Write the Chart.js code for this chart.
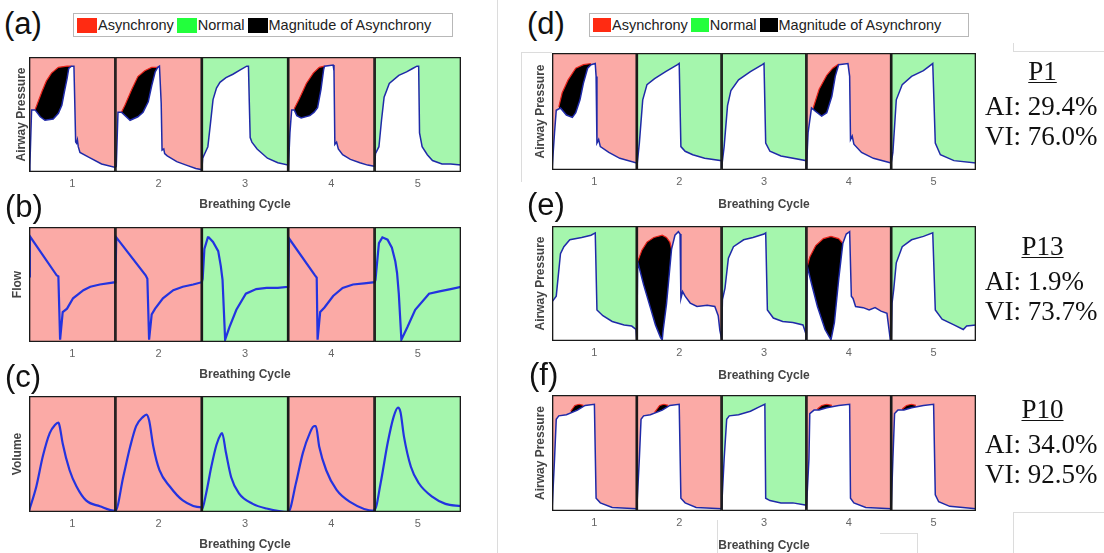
<!DOCTYPE html>
<html>
<head>
<meta charset="utf-8">
<script src="https://cdn.jsdelivr.net/npm/chart.js@4.4.0/dist/chart.umd.min.js"></script>
<style>
body { margin: 0; width: 1104px; height: 553px; overflow: hidden; background: #fff; position: relative;
  font-family: "Liberation Sans", Arial, sans-serif; }
canvas { position: absolute; }
.tag { position: absolute; font-size: 31px; line-height: 1; color: #111; }
.legend { position: absolute; height: 24px; border: 1px solid #b8b8b8; background: #fff; display: flex;
  align-items: center; white-space: nowrap; color: #222; box-sizing: border-box; font-size: 14.5px; }
.legend i { display: inline-block; margin: 0 1px 0 3px; }
.stats { position: absolute; width: 115px; font-family: "Liberation Serif", "Times New Roman", serif;
  font-size: 27px; line-height: 30px; color: #111; }
.stats .pn { text-align: center; text-decoration: underline; text-underline-offset: 2px;
  text-decoration-thickness: 1px; margin-bottom: 5px; }
.faint { position: absolute; background: #dcdcdc; }
</style>
</head>
<body>
<div class="faint" style="left:497px;top:0;width:1px;height:553px"></div>
<div class="faint" style="left:521px;top:52px;width:1px;height:130px"></div>
<div class="faint" style="left:521px;top:52px;width:31px;height:1px"></div>
<div class="faint" style="left:1013px;top:43px;width:1px;height:8px"></div>
<div class="faint" style="left:1013px;top:51px;width:91px;height:1px"></div>
<div class="faint" style="left:1013px;top:512px;width:91px;height:1px"></div>
<div class="faint" style="left:1013px;top:512px;width:1px;height:41px"></div>
<div class="faint" style="left:717px;top:520px;width:1px;height:33px"></div>
<div class="faint" style="left:880px;top:533px;width:37px;height:1px"></div>
<div class="faint" style="left:917px;top:533px;width:1px;height:20px"></div>
<canvas id="pa" width="470" height="161" style="left:0;top:52px"></canvas>
<canvas id="pb" width="470" height="161" style="left:0;top:222px"></canvas>
<canvas id="pc" width="470" height="162" style="left:0;top:391px"></canvas>
<canvas id="pd" width="464" height="165" style="left:522px;top:48px"></canvas>
<canvas id="pe" width="464" height="163" style="left:522px;top:221px"></canvas>
<canvas id="pf" width="464" height="164" style="left:522px;top:390px"></canvas>
<div class="tag" style="left:4px;top:8px">(a)</div>
<div class="tag" style="left:5px;top:191px">(b)</div>
<div class="tag" style="left:5px;top:361px">(c)</div>
<div class="tag" style="left:527px;top:8px">(d)</div>
<div class="tag" style="left:527px;top:189px">(e)</div>
<div class="tag" style="left:529px;top:359px">(f)</div>
<div class="legend" id="legA" style="left:73px;top:13px;width:380px"></div>
<div class="legend" id="legD" style="left:589px;top:13px;width:380px"></div>
<div class="stats" id="st0" style="left:985px;top:56px"></div>
<div class="stats" id="st1" style="left:985px;top:231px"></div>
<div class="stats" id="st2" style="left:985px;top:394px"></div>
<script>
// breathing cycles on the x axis
const cycles = [1, 2, 3, 4, 5];
const tickLabels = ['1', '2', '3', '4', '5'];

// classification of each cycle
const statusA = ['Asynchrony', 'Asynchrony', 'Normal', 'Asynchrony', 'Normal'];
const statusD = ['Asynchrony', 'Normal', 'Normal', 'Asynchrony', 'Normal'];
const statusE = ['Normal', 'Asynchrony', 'Normal', 'Asynchrony', 'Normal'];
const statusF = ['Asynchrony', 'Asynchrony', 'Normal', 'Asynchrony', 'Asynchrony'];

const legendLabels = ['Asynchrony', 'Normal', 'Magnitude of Asynchrony'];

// patient summaries
const patientIds = ['P1', 'P13', 'P10'];
const aiValues = ['29.4', '1.9', '34.0'];
const viValues = ['76.0', '73.7', '92.5'];

// waveforms: per cycle a list of [phase in cycle, normalised value]
const pressureA = [
  [[0,0],[0.01,0.05],[0.03,0.54],[0.07,0.54],[0.13,0.48],[0.185,0.45],[0.28,0.46],[0.34,0.51],[0.38,0.58],[0.41,0.70],[0.44,0.81],[0.46,0.90],[0.49,0.92],[0.52,0.92],[0.53,0.60],[0.54,0.26],[0.55,0.25],[0.56,0.28],[0.57,0.22],[0.59,0.17],[0.69,0.13],[0.84,0.07],[1.0,0.04]],
  [[0,0.04],[0.01,0.05],[0.03,0.52],[0.07,0.52],[0.17,0.45],[0.26,0.48],[0.32,0.52],[0.38,0.61],[0.42,0.75],[0.46,0.87],[0.49,0.91],[0.51,0.92],[0.53,0.60],[0.54,0.19],[0.56,0.20],[0.57,0.16],[0.60,0.14],[0.71,0.09],[0.82,0.06],[0.93,0.03],[1.0,0.02]],
  [[0,0.01],[0.01,0.12],[0.04,0.17],[0.07,0.22],[0.10,0.42],[0.13,0.63],[0.17,0.73],[0.21,0.78],[0.28,0.82],[0.36,0.85],[0.45,0.89],[0.52,0.92],[0.54,0.92],[0.55,0.60],[0.56,0.30],[0.58,0.26],[0.64,0.20],[0.76,0.12],[0.88,0.08],[1.0,0.06]],
  [[0,0],[0.02,0.34],[0.04,0.54],[0.07,0.54],[0.10,0.49],[0.15,0.47],[0.25,0.49],[0.30,0.52],[0.34,0.56],[0.38,0.72],[0.41,0.89],[0.42,0.92],[0.52,0.93],[0.53,0.88],[0.54,0.24],[0.56,0.26],[0.58,0.20],[0.63,0.15],[0.72,0.11],[0.83,0.08],[0.92,0.06],[1.0,0.05]],
  [[0,0.05],[0.01,0.16],[0.05,0.22],[0.08,0.45],[0.11,0.65],[0.17,0.77],[0.28,0.84],[0.37,0.87],[0.44,0.90],[0.49,0.92],[0.51,0.92],[0.52,0.34],[0.55,0.22],[0.61,0.15],[0.67,0.10],[0.78,0.07],[0.88,0.07],[1.0,0.06]]
];
const envelopeA = [
  [[0.07,0.54],[0.09,0.58],[0.15,0.70],[0.20,0.79],[0.26,0.86],[0.34,0.91],[0.44,0.92],[0.49,0.92]],
  [[0.07,0.52],[0.11,0.58],[0.19,0.72],[0.26,0.83],[0.34,0.88],[0.42,0.91],[0.49,0.91]],
  null,
  [[0.07,0.55],[0.13,0.64],[0.21,0.77],[0.29,0.86],[0.36,0.91],[0.42,0.92]],
  null
];

const flowB = [
  [[0,0.57],[0.01,0.92],[0.32,0.58],[0.34,0.57],[0.36,0.02],[0.39,0.26],[0.44,0.29],[0.51,0.38],[0.63,0.45],[0.71,0.48],[0.82,0.50],[1.0,0.52]],
  [[0,0.52],[0.01,0.91],[0.35,0.58],[0.37,0.55],[0.39,0.02],[0.42,0.24],[0.46,0.29],[0.55,0.38],[0.67,0.45],[0.78,0.48],[0.90,0.50],[1.0,0.52]],
  [[0,0.52],[0.01,0.55],[0.03,0.81],[0.07,0.91],[0.08,0.91],[0.13,0.87],[0.19,0.79],[0.22,0.66],[0.24,0.54],[0.27,0.02],[0.32,0.13],[0.40,0.28],[0.51,0.42],[0.63,0.46],[0.75,0.47],[0.88,0.47],[1.0,0.48]],
  [[0,0.48],[0.01,0.90],[0.31,0.58],[0.33,0.56],[0.34,0.02],[0.37,0.26],[0.42,0.30],[0.52,0.40],[0.63,0.47],[0.75,0.50],[0.88,0.51],[1.0,0.52]],
  [[0,0.52],[0.01,0.54],[0.05,0.86],[0.09,0.91],[0.15,0.89],[0.20,0.82],[0.24,0.70],[0.26,0.60],[0.28,0.42],[0.31,0.02],[0.38,0.13],[0.47,0.28],[0.63,0.42],[0.75,0.44],[0.88,0.46],[1.0,0.48]]
];

const volumeC = [
  [[0,0.01],[0.085,0.22],[0.16,0.48],[0.24,0.68],[0.30,0.75],[0.34,0.77],[0.355,0.74],[0.39,0.59],[0.47,0.36],[0.55,0.22],[0.66,0.10],[0.82,0.05],[1.0,0.01]],
  [[0,0.01],[0.09,0.30],[0.17,0.56],[0.24,0.74],[0.32,0.82],[0.36,0.84],[0.39,0.79],[0.44,0.56],[0.51,0.36],[0.63,0.22],[0.78,0.10],[1.0,0.04]],
  [[0,0.02],[0.05,0.16],[0.11,0.39],[0.17,0.58],[0.22,0.67],[0.235,0.68],[0.28,0.51],[0.34,0.30],[0.43,0.16],[0.59,0.07],[0.75,0.03],[1.0,0.0]],
  [[0,0.0],[0.09,0.25],[0.17,0.51],[0.25,0.68],[0.30,0.74],[0.32,0.74],[0.36,0.56],[0.44,0.36],[0.56,0.19],[0.71,0.09],[1.0,0.01]],
  [[0,0.02],[0.07,0.25],[0.15,0.59],[0.22,0.82],[0.27,0.90],[0.30,0.86],[0.34,0.65],[0.42,0.39],[0.51,0.25],[0.67,0.13],[0.82,0.07],[1.0,0.05]]
];

const pressureD = [
  [[0,0],[0.03,0.32],[0.05,0.51],[0.10,0.53],[0.17,0.47],[0.24,0.45],[0.28,0.49],[0.33,0.60],[0.37,0.74],[0.42,0.87],[0.46,0.90],[0.51,0.91],[0.52,0.80],[0.53,0.23],[0.55,0.26],[0.57,0.20],[0.67,0.15],[0.80,0.10],[1.0,0.06]],
  [[0,0.02],[0.03,0.23],[0.07,0.60],[0.12,0.73],[0.21,0.78],[0.34,0.84],[0.48,0.90],[0.50,0.91],[0.52,0.20],[0.57,0.16],[0.66,0.13],[0.80,0.10],[1.0,0.08]],
  [[0,0.02],[0.03,0.20],[0.07,0.55],[0.11,0.68],[0.20,0.77],[0.34,0.84],[0.48,0.90],[0.50,0.91],[0.52,0.23],[0.57,0.16],[0.70,0.12],[1.0,0.08]],
  [[0,0],[0.02,0.32],[0.06,0.53],[0.11,0.50],[0.18,0.46],[0.24,0.49],[0.30,0.63],[0.34,0.80],[0.38,0.90],[0.49,0.91],[0.51,0.80],[0.52,0.26],[0.54,0.29],[0.56,0.22],[0.65,0.15],[0.79,0.10],[1.0,0.06]],
  [[0,0.06],[0.02,0.15],[0.06,0.60],[0.13,0.73],[0.24,0.80],[0.38,0.85],[0.49,0.91],[0.52,0.23],[0.58,0.13],[0.74,0.08],[1.0,0.06]]
];
const envelopeD = [
  [[0.08,0.54],[0.12,0.66],[0.19,0.77],[0.28,0.87],[0.37,0.90],[0.46,0.91]],
  null, null,
  [[0.08,0.53],[0.15,0.69],[0.24,0.81],[0.31,0.87],[0.38,0.905]],
  null
];

const pressureE = [
  [[0,0.34],[0.05,0.39],[0.10,0.76],[0.14,0.82],[0.21,0.88],[0.35,0.90],[0.46,0.92],[0.51,0.94],[0.53,0.27],[0.60,0.22],[0.71,0.17],[0.85,0.14],[0.94,0.13],[0.99,0.10],[1.0,0.01]],
  [[0,0.01],[0.01,0.69],[0.08,0.49],[0.16,0.29],[0.22,0.14],[0.28,0.03],[0.30,0.01],[0.31,0.09],[0.35,0.32],[0.385,0.60],[0.41,0.80],[0.45,0.92],[0.49,0.95],[0.51,0.93],[0.52,0.37],[0.54,0.43],[0.57,0.39],[0.63,0.33],[0.71,0.30],[0.83,0.31],[0.92,0.30],[0.96,0.22],[0.98,0.09],[1.0,0.02]],
  [[0,0.02],[0.01,0.36],[0.04,0.46],[0.08,0.72],[0.14,0.82],[0.26,0.88],[0.37,0.90],[0.50,0.93],[0.52,0.94],[0.54,0.27],[0.61,0.20],[0.72,0.17],[0.84,0.16],[0.96,0.14],[1.0,0.05]],
  [[0,0.01],[0.01,0.65],[0.06,0.50],[0.13,0.30],[0.22,0.10],[0.29,0.01],[0.33,0.16],[0.38,0.53],[0.43,0.85],[0.47,0.93],[0.51,0.95],[0.53,0.39],[0.55,0.37],[0.58,0.30],[0.67,0.29],[0.74,0.27],[0.81,0.29],[0.88,0.26],[0.95,0.24],[0.99,0.01],[1.0,0.0]],
  [[0,0.0],[0.01,0.33],[0.03,0.45],[0.06,0.68],[0.13,0.82],[0.24,0.88],[0.38,0.91],[0.49,0.94],[0.52,0.27],[0.60,0.19],[0.74,0.14],[0.85,0.10],[0.89,0.13],[1.0,0.14]]
];
const envelopeE = [
  null,
  [[0.01,0.69],[0.06,0.79],[0.12,0.86],[0.20,0.90],[0.30,0.92],[0.35,0.90],[0.39,0.86],[0.41,0.80]],
  null,
  [[0.01,0.65],[0.04,0.73],[0.11,0.83],[0.20,0.89],[0.29,0.91],[0.38,0.89],[0.43,0.85]],
  null
];

const pressureF = [
  [[0,0],[0.03,0.45],[0.05,0.79],[0.08,0.82],[0.17,0.83],[0.30,0.87],[0.39,0.91],[0.50,0.92],[0.52,0.11],[0.57,0.07],[0.71,0.03],[1.0,0.02]],
  [[0,0.02],[0.03,0.45],[0.05,0.79],[0.08,0.82],[0.16,0.83],[0.30,0.87],[0.39,0.91],[0.50,0.92],[0.52,0.11],[0.57,0.07],[0.70,0.03],[1.0,0.02]],
  [[0,0.02],[0.03,0.45],[0.06,0.79],[0.09,0.82],[0.20,0.83],[0.34,0.86],[0.45,0.90],[0.51,0.92],[0.52,0.11],[0.57,0.09],[0.70,0.07],[0.84,0.07],[1.0,0.05]],
  [[0,0.02],[0.03,0.45],[0.04,0.84],[0.09,0.87],[0.15,0.87],[0.24,0.89],[0.38,0.91],[0.51,0.92],[0.52,0.11],[0.56,0.07],[0.70,0.03],[1.0,0.02]],
  [[0,0.02],[0.02,0.45],[0.04,0.84],[0.08,0.87],[0.15,0.87],[0.24,0.89],[0.38,0.91],[0.50,0.92],[0.52,0.14],[0.56,0.08],[0.69,0.04],[1.0,0.02]]
];
const envelopeF = [
  [[0.22,0.86],[0.27,0.91],[0.32,0.92],[0.37,0.91]],
  [[0.21,0.85],[0.27,0.91],[0.32,0.92],[0.37,0.91]],
  null,
  [[0.13,0.88],[0.18,0.91],[0.24,0.92],[0.30,0.91]],
  [[0.13,0.88],[0.18,0.91],[0.24,0.92],[0.29,0.91]]
];

const bgColor = { Asynchrony: '#fbaaa6', Normal: '#a5f6ad' };
const legendColor = ['#ff2b12', '#22ff3c', '#000000'];

function toPoints(list, i) {
  return list.map(([p, v]) => ({ x: cycles[i] - 0.5 + p, y: v }));
}

function makePanel(id, cfg) {
  const wave = [];
  cfg.wave.forEach((cyc, i) => wave.push(...toPoints(cyc, i)));
  const datasets = [{
    type: 'line', data: wave, borderColor: cfg.lineColor, borderWidth: cfg.lineWidth,
    pointRadius: 0, fill: cfg.whiteFill ? 'origin' : false, backgroundColor: '#ffffff',
    cubicInterpolationMode: cfg.smooth ? 'monotone' : 'default', tension: 0, order: 1
  }];
  (cfg.envelope || []).forEach((env, i) => {
    if (!env) return;
    datasets.push({
      type: 'line', data: toPoints(env, i), borderColor: '#e8231a', borderWidth: 1.2, pointRadius: 0,
      fill: { target: 0, above: '#000', below: '#000' }, order: 2
    });
  });
  const full = cycles.map(c => ({ x: c, y: 1 }));
  datasets.push({
    type: 'bar', data: full, backgroundColor: cfg.status.map(s => bgColor[s]), borderWidth: 0,
    barPercentage: 1, categoryPercentage: 1, grouped: false, order: 3
  });
  datasets.push({
    type: 'bar', data: full, backgroundColor: 'rgba(0,0,0,0)', borderColor: '#1a1a1a', borderWidth: 1,
    borderSkipped: false, barPercentage: 1, categoryPercentage: 1, grouped: false, order: 0
  });

  new Chart(document.getElementById(id), {
    type: 'line',
    data: { datasets },
    options: {
      responsive: false,
      animation: false,
      events: [],
      layout: { padding: { top: 5, right: cfg.padRight, left: 0, bottom: 0 } },
      plugins: { legend: { display: false }, tooltip: { enabled: false } },
      scales: {
        x: {
          type: 'linear', min: 0.5, max: 5.5, offset: false,
          afterBuildTicks: s => { s.ticks = cycles.map(v => ({ value: v })); },
          afterFit: s => { s.height = cfg.xHeight; },
          grid: { display: false, drawTicks: false, offset: false }, border: { display: false },
          ticks: { callback: (v, i) => tickLabels[i], color: '#666', padding: 5, maxRotation: 0,
            font: { family: 'Liberation Sans', size: 11 } },
          title: { display: true, text: 'Breathing Cycle', color: '#444', padding: { top: 0, bottom: 1 },
            font: { family: 'Liberation Sans', size: 12, weight: 'bold' } }
        },
        y: {
          min: 0, max: 1,
          afterFit: s => { s.width = cfg.yWidth; },
          grid: { display: false, drawTicks: false }, border: { display: false },
          ticks: { display: false },
          title: { display: true, text: cfg.yTitle, color: '#444', padding: { top: cfg.yPad, bottom: 0 },
            font: { family: 'Liberation Sans', size: 12, weight: 'bold' } }
        }
      }
    }
  });
}

const pressureLine = '#1f2aa8';
const flowLine = '#2333e0';
const leftCol = { padRight: 9, xHeight: 41, yWidth: 29 };
const rightCol = { padRight: 10, xHeight: 43, yWidth: 30, yPad: 11, yTitle: 'Airway Pressure', whiteFill: true,
  lineColor: pressureLine, lineWidth: 1.5 };
makePanel('pa', { ...leftCol, wave: pressureA, envelope: envelopeA, status: statusA, yTitle: 'Airway Pressure',
  whiteFill: true, lineColor: pressureLine, lineWidth: 1.5, yPad: 14 });
makePanel('pb', { ...leftCol, wave: flowB, status: statusA, yTitle: 'Flow', whiteFill: false,
  lineColor: flowLine, lineWidth: 2.2, yPad: 10 });
makePanel('pc', { ...leftCol, wave: volumeC, status: statusA, yTitle: 'Volume', whiteFill: false, smooth: true,
  lineColor: flowLine, lineWidth: 2.2, yPad: 10 });
makePanel('pd', { ...rightCol, wave: pressureD, envelope: envelopeD, status: statusD });
makePanel('pe', { ...rightCol, wave: pressureE, envelope: envelopeE, status: statusE });
makePanel('pf', { ...rightCol, wave: pressureF, envelope: envelopeF, status: statusF });

// legends
function fillLegend(id, sw, sh) {
  const el = document.getElementById(id);
  legendLabels.forEach((lab, i) => {
    const sq = document.createElement('i');
    sq.style.width = sw + 'px';
    sq.style.height = sh + 'px';
    sq.style.background = legendColor[i];
    el.appendChild(sq);
    el.appendChild(document.createTextNode(lab));
  });
}
fillLegend('legA', 20, 15);
fillLegend('legD', 18, 14);

// patient summaries
patientIds.forEach((p, i) => {
  const el = document.getElementById('st' + i);
  el.innerHTML = '<div class="pn">' + p + '</div><div>AI: ' + aiValues[i] + '%</div><div>VI: ' + viValues[i] + '%</div>';
});
</script>
</body>
</html>
